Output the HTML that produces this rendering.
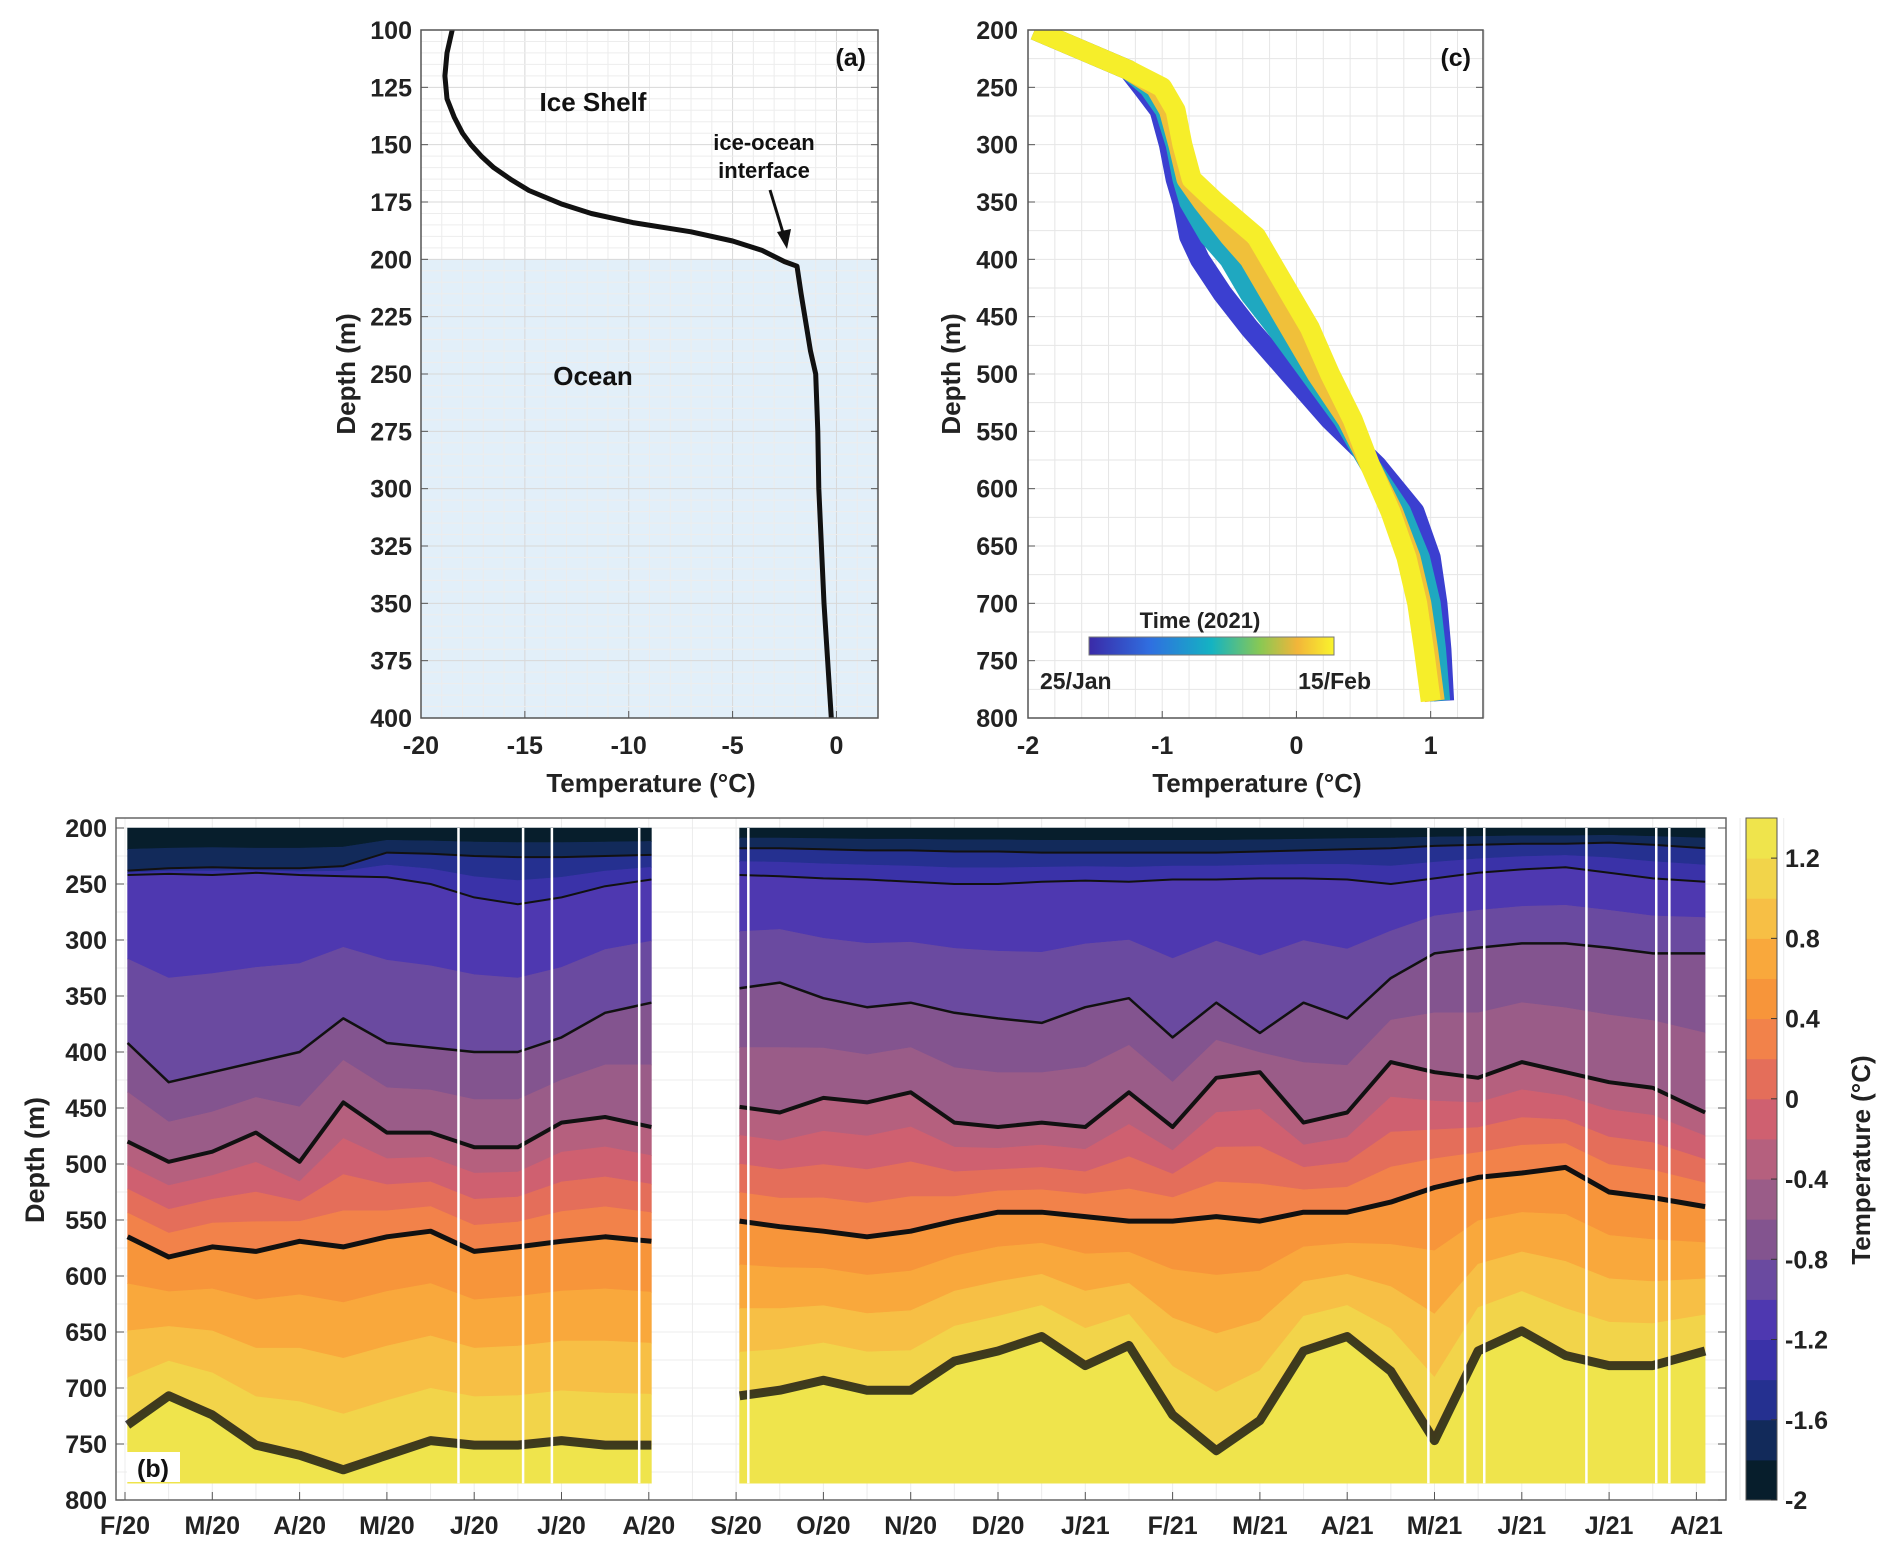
<!DOCTYPE html>
<html><head><meta charset="utf-8">
<style>
html,body{margin:0;padding:0;background:#fff;}
svg{display:block;font-family:"Liberation Sans",Arial,sans-serif;font-weight:bold;}
</style></head>
<body>
<svg id="fig" width="1892" height="1557" viewBox="0 0 1892 1557" xmlns="http://www.w3.org/2000/svg">
<defs>
<linearGradient id="timeGrad" x1="0" x2="1" y1="0" y2="0">
<stop offset="0" stop-color="#3a2aa8"/><stop offset="0.25" stop-color="#2f6fe0"/><stop offset="0.5" stop-color="#14b3c2"/><stop offset="0.7" stop-color="#8ac853"/><stop offset="0.85" stop-color="#f2b53a"/><stop offset="1" stop-color="#f9f42c"/>
</linearGradient>
<clipPath id="clipA"><rect x="421" y="30" width="457" height="688"/></clipPath>
<clipPath id="clipC"><rect x="1028" y="30" width="455" height="688"/></clipPath>
</defs>
<g id="panelA"></g>
<g id="panelC"></g>
<g id="panelB"></g>
</svg>
<script>
// ---------- Panel (a) data ----------
const aDepth = [100,110,120,130,138,145,150,155,160,165,170,176,180,184,188,192,196,201,203,215,240,250,275,300,350,400];
const aTemp  = [-18.5,-18.75,-18.85,-18.75,-18.4,-18.0,-17.6,-17.1,-16.5,-15.7,-14.8,-13.2,-11.8,-9.8,-7.0,-5.0,-3.6,-2.5,-1.9,-1.7,-1.25,-1.0,-0.9,-0.85,-0.6,-0.25];
const aYTicks = [100,125,150,175,200,225,250,275,300,325,350,375,400];
const aXTicks = [-20,-15,-10,-5,0];

// ---------- Panel (c) data ----------
const cDepth = [200,215,235,250,270,300,330,350,380,400,430,460,500,540,580,620,660,700,740,785];
const cTempJan25 = [-1.95,-1.65,-1.25,-1.15,-1.02,-0.95,-0.9,-0.85,-0.8,-0.72,-0.55,-0.35,-0.05,0.25,0.6,0.88,1.0,1.05,1.08,1.1];
const cTempJan31 = [-1.95,-1.65,-1.25,-1.1,-0.98,-0.9,-0.85,-0.8,-0.65,-0.5,-0.35,-0.15,0.1,0.35,0.55,0.78,0.92,1.0,1.04,1.07];
const cTempFeb07 = [-1.95,-1.65,-1.25,-1.05,-0.95,-0.88,-0.82,-0.7,-0.5,-0.35,-0.2,-0.05,0.15,0.38,0.55,0.72,0.85,0.93,0.98,1.03];
const cTempFeb15 = [-1.95,-1.65,-1.25,-1.0,-0.9,-0.85,-0.78,-0.6,-0.3,-0.2,-0.05,0.1,0.25,0.42,0.55,0.7,0.82,0.9,0.95,1.0];
const cYTicks = [200,250,300,350,400,450,500,550,600,650,700,750,800];
const cXTicks = [-2,-1,0,1];

// ---------- Panel (b) data ----------
const bMonthLabels = ["F/20","M/20","A/20","M/20","J/20","J/20","A/20","S/20","O/20","N/20","D/20","J/21","F/21","M/21","A/21","M/21","J/21","J/21","A/21"];
const bYTicks = [200,250,300,350,400,450,500,550,600,650,700,750,800];
const isoLevels = [-1.6,-1.2,-0.8,-0.4,0.4,1.2];
const seg1Time = [0.03,0.5,1,1.5,2,2.5,3,3.5,4,4.5,5,5.5,6.03];
const seg1Iso16 = [238,236,235,236,236,234,222,223,225,226,226,225,224];
const seg1Iso12 = [242,241,242,240,242,243,244,250,262,268,262,252,246];
const seg1Iso08 = [392,427,418,409,400,370,392,396,400,400,387,365,356];
const seg1Iso04 = [480,498,489,472,498,445,472,472,485,485,463,458,467];
const seg1IsoP4 = [565,583,574,578,569,574,565,560,578,574,569,565,569];
const seg1IsoP12 = [733,707,724,751,760,773,760,747,751,751,747,751,751];
const seg2Time = [7.04,7.5,8,8.5,9,9.5,10,10.5,11,11.5,12,12.5,13,13.5,14,14.5,15,15.5,16,16.5,17,17.5,18.1];
const seg2Iso16 = [218,218,219,220,220,221,221,222,222,222,222,222,221,220,219,218,216,215,214,214,213,215,218];
const seg2Iso12 = [242,243,245,246,248,250,250,248,247,248,246,246,245,245,246,250,245,240,237,235,240,245,248];
const seg2Iso08 = [343,338,352,360,356,365,370,374,360,352,387,356,383,356,370,334,312,307,303,303,307,312,312];
const seg2Iso04 = [449,454,441,445,436,463,467,463,467,436,467,423,418,463,454,409,418,423,409,418,427,432,454];
const seg2IsoP4 = [551,556,560,565,560,551,543,543,547,551,551,547,551,543,543,534,521,512,508,503,525,530,538];
const seg2IsoP12 = [707,702,693,702,702,676,667,654,680,662,724,756,729,667,654,685,747,667,649,671,680,680,667];
const gapTimes = [3.82,4.56,4.89,5.89,7.14,14.93,15.35,15.57,16.74,17.54,17.69];
const cbTicks = [1.2,0.8,0.4,0,-0.4,-0.8,-1.2,-1.6,-2];
const bandColors = ["#071e2c","#122a5a","#253090","#3a32a8","#4e38b0","#6a4aa0","#83548f","#9a5c88","#b5607e","#cf6070","#e46e5a","#f2824a","#f7953a","#f9a83c","#f7bf45","#f2d44a","#efe44c"];
const isoWidths = [2,2,2.5,4,5,9];

const NS = "http://www.w3.org/2000/svg";
function mk(parent, tag, attrs, text){
  const e = document.createElementNS(NS, tag);
  for (const k in attrs) e.setAttribute(k, attrs[k]);
  if (text !== undefined) e.textContent = text;
  parent.appendChild(e);
  return e;
}

// ===== Panel A =====
(function(){
  const g = document.getElementById('panelA');
  const L=421,R=878,T=30,B=718;
  const xs = v => L + (v+20)/22*(R-L);
  const ys = d => T + (d-100)/300*(B-T);
  const bg = mk(g,'rect',{x:L,y:T,width:R-L,height:B-T,fill:'#fff'});
  
  
  const ocean = mk(g,'rect',{x:L,y:ys(200),width:R-L,height:B-ys(200),fill:'#e2eff9'});
  
  
  for(let v=-20; v<=2; v+=1){ mk(g,'line',{x1:xs(v),x2:xs(v),y1:T,y2:B,stroke: v%5===0?'#d8d8d8':'#ececec','stroke-width':1}); }
  for(let d=100; d<=400; d+=5){ mk(g,'line',{x1:L,x2:R,y1:ys(d),y2:ys(d),stroke: d%25===0?'#d8d8d8':'#ededed','stroke-width':1}); }
  const pts = aDepth.map((d,i)=>xs(aTemp[i]).toFixed(1)+','+ys(d).toFixed(1)).join(' ');
  const prof = mk(g,'polyline',{points:pts,fill:'none',stroke:'#111','stroke-width':5,'stroke-linejoin':'round','clip-path':'url(#clipA)'});
  
  
  const box = mk(g,'rect',{x:L,y:T,width:R-L,height:B-T,fill:'none',stroke:'#555','stroke-width':1.5});
  
  
  aYTicks.forEach(d=>{
    mk(g,'line',{x1:L,x2:L+7,y1:ys(d),y2:ys(d),stroke:'#555'});
    mk(g,'line',{x1:R,x2:R-7,y1:ys(d),y2:ys(d),stroke:'#555'});
    const t = mk(g,'text',{x:412,y:ys(d)+9,'text-anchor':'end','font-size':25,fill:'#222'},String(d));
    
    
  });
  aXTicks.forEach(v=>{
    mk(g,'line',{x1:xs(v),x2:xs(v),y1:B,y2:B-7,stroke:'#555'});
    const t = mk(g,'text',{x:xs(v),y:754,'text-anchor':'middle','font-size':25,fill:'#222'},String(v));
    
    
  });
  let t;
  t = mk(g,'text',{x:651,y:792,'text-anchor':'middle','font-size':26,fill:'#222'},'Temperature (°C)');
   
  t = mk(g,'text',{x:0,y:0,'text-anchor':'middle','font-size':26,fill:'#222',transform:'translate(355,374) rotate(-90)'},'Depth (m)');
   
  t = mk(g,'text',{x:593,y:111,'text-anchor':'middle','font-size':26,fill:'#111'},'Ice Shelf');
   
  t = mk(g,'text',{x:593,y:385,'text-anchor':'middle','font-size':26,fill:'#111'},'Ocean');
   
  t = mk(g,'text',{x:764,y:150,'text-anchor':'middle','font-size':22,fill:'#111'},'ice-ocean');
   
  t = mk(g,'text',{x:764,y:178,'text-anchor':'middle','font-size':22,fill:'#111'},'interface');
   
  const ar = mk(g,'line',{x1:770,y1:190,x2:784,y2:236,stroke:'#111','stroke-width':3});
   
  mk(g,'polygon',{points:'787,249 777,232 791,229',fill:'#111'});
  t = mk(g,'text',{x:866,y:66,'text-anchor':'end','font-size':25,fill:'#111'},'(a)');
   
})();

// ===== Panel C =====
(function(){
  const g = document.getElementById('panelC');
  const L=1028,R=1483,T=30,B=718;
  const xs = v => L + (v+2)/3.39*(R-L);
  const ys = d => T + (d-200)/600*(B-T);
  for(let v=-2; v<=1.4; v+=0.2){ mk(g,'line',{x1:xs(v),x2:xs(v),y1:T,y2:B,stroke:'#e6e6e6'}); }
  for(let d=200; d<=800; d+=25){ mk(g,'line',{x1:L,x2:R,y1:ys(d),y2:ys(d),stroke:'#e6e6e6'}); }
  const profs = [[cTempJan25,'#3b3fd0','profile-jan25'],[cTempJan31,'#1fa8c0','profile-jan31'],[cTempFeb07,'#f0c03a','profile-feb07'],[cTempFeb15,'#f6ee2a','profile-feb15']];
  profs.forEach(p=>{
    const pts = cDepth.map((d,i)=>xs(p[0][i]).toFixed(1)+','+ys(d).toFixed(1)).join(' ');
    const pl = mk(g,'polyline',{points:pts,fill:'none',stroke:p[1],'stroke-width':20,'stroke-linejoin':'round','clip-path':'url(#clipC)'});
    
    
  });
  const box = mk(g,'rect',{x:L,y:T,width:R-L,height:B-T,fill:'none',stroke:'#555','stroke-width':1.5});
   
  cYTicks.forEach(d=>{
    mk(g,'line',{x1:L,x2:L+7,y1:ys(d),y2:ys(d),stroke:'#555'});
    mk(g,'line',{x1:R,x2:R-7,y1:ys(d),y2:ys(d),stroke:'#555'});
    const t = mk(g,'text',{x:1018,y:ys(d)+9,'text-anchor':'end','font-size':25,fill:'#222'},String(d));
     
  });
  cXTicks.forEach(v=>{
    mk(g,'line',{x1:xs(v),x2:xs(v),y1:B,y2:B-7,stroke:'#555'});
    const t = mk(g,'text',{x:xs(v),y:754,'text-anchor':'middle','font-size':25,fill:'#222'},String(v));
     
  });
  let t;
  t = mk(g,'text',{x:1257,y:792,'text-anchor':'middle','font-size':26,fill:'#222'},'Temperature (°C)');
   
  t = mk(g,'text',{x:0,y:0,'text-anchor':'middle','font-size':26,fill:'#222',transform:'translate(960,374) rotate(-90)'},'Depth (m)');
   
  t = mk(g,'text',{x:1471,y:66,'text-anchor':'end','font-size':25,fill:'#111'},'(c)');
   
  const cb = mk(g,'rect',{x:1089,y:637,width:245,height:18,fill:'url(#timeGrad)',stroke:'#777','stroke-width':1});
   
  t = mk(g,'text',{x:1200,y:628,'text-anchor':'middle','font-size':22,fill:'#222'},'Time (2021)');
   
  t = mk(g,'text',{x:1040,y:689,'text-anchor':'start','font-size':23,fill:'#222'},'25/Jan');
   
  t = mk(g,'text',{x:1371,y:689,'text-anchor':'end','font-size':23,fill:'#222'},'15/Feb');
   
})();

// ===== Panel B =====
(function(){
  const g = document.getElementById('panelB');
  const L=116,R=1726,T=818,B=1500;
  const xs = t => 125 + t*87.3;
  const ys = d => 828 + (d-200)*1.12;
  mk(g,'rect',{x:L,y:T,width:R-L,height:B-T,fill:'#fff'});
  for(let t=0;t<=19;t+=0.5){ mk(g,'line',{x1:xs(t),x2:xs(t),y1:T,y2:B,stroke:'#ececec'}); }
  for(let d=200; d<=800; d+=25){ mk(g,'line',{x1:L,x2:R,y1:ys(d),y2:ys(d),stroke:'#ececec'}); }
  const DTOP=200, DBOT=785;
  function drawSeg(times, isos, name){
    const sg = mk(g,'g',{});
    
    
    function depthAt(i, v){
      const kd=[DTOP], kv=[-2.0];
      isoLevels.forEach((lv,k)=>{ kd.push(Math.max(isos[k][i], kd[kd.length-1]+0.5)); kv.push(lv); });
      kd.push(DBOT); kv.push(1.4);
      for(let k=0;k<kd.length-1;k++){
        if(v>=kv[k] && v<=kv[k+1]){ return kd[k] + (v-kv[k])/(kv[k+1]-kv[k])*(kd[k+1]-kd[k]); }
      }
      return DBOT;
    }
    for(let b=0;b<17;b++){
      const v0=-2+b*0.2, v1=v0+0.2;
      const top = times.map((t,i)=> xs(t).toFixed(1)+','+ys(b===0?DTOP:depthAt(i,v0)).toFixed(1));
      const bot = times.map((t,i)=> xs(t).toFixed(1)+','+ys(b===16?DBOT:depthAt(i,v1)).toFixed(1)).reverse();
      const pg = mk(sg,'polygon',{points:top.concat(bot).join(' '),fill:bandColors[b],stroke:bandColors[b],'stroke-width':0.6});
      
      
    }
    isos.forEach((arr,k)=>{
      const pts = times.map((t,i)=>xs(t).toFixed(1)+','+ys(arr[i]).toFixed(1)).join(' ');
      const pl = mk(sg,'polyline',{points:pts,fill:'none',stroke:'#111','stroke-width':isoWidths[k],'stroke-opacity':k===5?0.8:1,'stroke-linejoin':'round'});
      
      
    });
  }
  drawSeg(seg1Time,[seg1Iso16,seg1Iso12,seg1Iso08,seg1Iso04,seg1IsoP4,seg1IsoP12],'heatmap-segment-2020');
  drawSeg(seg2Time,[seg2Iso16,seg2Iso12,seg2Iso08,seg2Iso04,seg2IsoP4,seg2IsoP12],'heatmap-segment-2021');
  gapTimes.forEach(t=>{
    const l = mk(g,'line',{x1:xs(t),x2:xs(t),y1:ys(DTOP),y2:ys(DBOT),stroke:'#fff','stroke-width':2.5});
    
    
  });
  const box = mk(g,'rect',{x:L,y:T,width:R-L,height:B-T,fill:'none',stroke:'#666','stroke-width':1.5});
   
  bYTicks.forEach(d=>{
    mk(g,'line',{x1:L,x2:L+8,y1:ys(d),y2:ys(d),stroke:'#555'});
    mk(g,'line',{x1:R,x2:R-8,y1:ys(d),y2:ys(d),stroke:'#555'});
    const t = mk(g,'text',{x:107,y:ys(d)+9,'text-anchor':'end','font-size':25,fill:'#222'},String(d));
     
  });
  bMonthLabels.forEach((lab,i)=>{
    mk(g,'line',{x1:xs(i),x2:xs(i),y1:B,y2:B-8,stroke:'#555'});
    const t = mk(g,'text',{x:xs(i),y:1534,'text-anchor':'middle','font-size':25,fill:'#222'},lab);
     
  });
  let t;
  t = mk(g,'text',{x:0,y:0,'text-anchor':'middle','font-size':27,fill:'#222',transform:'translate(44,1160) rotate(-90)'},'Depth (m)');
   
  const lb = mk(g,'rect',{x:127,y:1452,width:53,height:30,fill:'#fff'});
   
  t = mk(g,'text',{x:153,y:1477,'text-anchor':'middle','font-size':25,fill:'#111'},'(b)');
   
  const cbL=1746, cbW=31, cbT=818, cbB=1500;
  const cy = v => cbB - (v+2)/3.4*(cbB-cbT);
  const cbg = mk(g,'g',{});
  
  
  bandColors.forEach((c,b)=>{
    const v0=-2+b*0.2;
    mk(cbg,'rect',{x:cbL,y:cy(v0+0.2),width:cbW,height:cy(v0)-cy(v0+0.2)+0.5,fill:c});
  });
  mk(cbg,'rect',{x:cbL,y:cbT,width:cbW,height:cbB-cbT,fill:'none',stroke:'#555','stroke-width':1});
  cbTicks.forEach(v=>{
    mk(cbg,'line',{x1:cbL+cbW-6,x2:cbL+cbW,y1:cy(v),y2:cy(v),stroke:'#333'});
    const tt = mk(cbg,'text',{x:1785,y:cy(v)+9,'text-anchor':'start','font-size':25,fill:'#222'},String(v));
     
  });
  t = mk(g,'text',{x:0,y:0,'text-anchor':'middle','font-size':26,fill:'#222',transform:'translate(1870,1160) rotate(-90)'},'Temperature (°C)');
   
})();
</script>
</body></html>
